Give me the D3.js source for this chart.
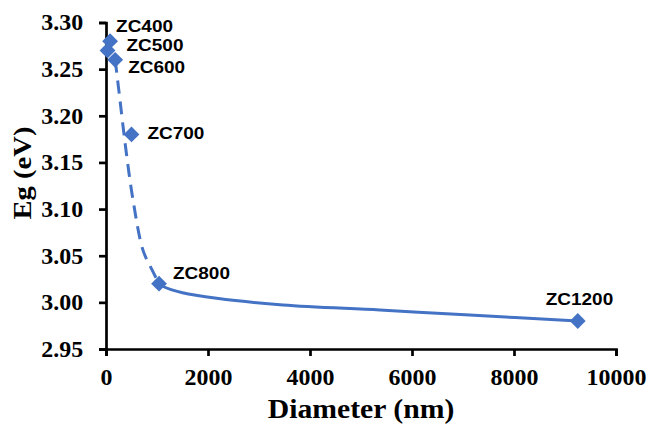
<!DOCTYPE html>
<html>
<head>
<meta charset="utf-8">
<script src="https://cdn.jsdelivr.net/npm/d3@7"></script>
<style>
  body { margin: 0; background: #fff; }
  svg { display: block; }
</style>
</head>
<body>
<script>
// measured points
var samples = ["ZC400", "ZC500", "ZC600", "ZC700", "ZC800", "ZC1200"];
var diameters = [80, 30, 180, 500, 1040, 9250];
var gaps = [3.28, 3.27, 3.26, 3.18, 3.02, 2.98];

// guide curve (dashed part, then solid part)
var dashDiam = [180, 274, 392, 529, 725, 901, 1040];
var dashGap = [3.26, 3.217, 3.163, 3.110, 3.056, 3.035, 3.02];
var solidDiam = [1040, 1120, 1500, 2170, 3470, 5370, 7130, 9250];
var solidGap = [3.02, 3.017, 3.0103, 3.0043, 2.9972, 2.9918, 2.9864, 2.98];

var xTicks = [0, 2000, 4000, 6000, 8000, 10000];
var yTicks = [2.95, 3.00, 3.05, 3.10, 3.15, 3.20, 3.25, 3.30];

// label offsets from marker centre (px)
var labelDx = [6, 19, 13, 16, 14, -32];
var labelDy = [-9, 1, 13, 5, -5, -16];

var width = 652,
    height = 426;
var blue = "#4472c4";
var stretch = 1.15; // the source labels are a bit wide

var svg = d3.select("body").append("svg")
    .attr("width", width)
    .attr("height", height);

svg.append("rect").attr("width", width).attr("height", height).attr("fill", "#fff");

var x = d3.scaleLinear().domain([0, 10000]).range([106, 616]);
var y = d3.scaleLinear().domain([2.95, 3.30]).range([349, 22.5]);

// axes
var xAxis = svg.append("g")
    .attr("transform", "translate(0," + y(2.95) + ")")
    .call(d3.axisBottom(x).tickValues(xTicks).tickSize(7).tickPadding(13).tickFormat(d3.format("d")));

var yAxis = svg.append("g")
    .attr("transform", "translate(" + x(0) + ",0)")
    .call(d3.axisLeft(y).tickValues(yTicks).tickSize(7).tickPadding(15).tickFormat(d3.format(".2f")));

[xAxis, yAxis].forEach(function(ax){
    ax.select(".domain").attr("stroke", "#000").attr("stroke-width", 2.7);
    ax.selectAll(".tick line").attr("stroke", "#000").attr("stroke-width", 2.7);
    ax.selectAll(".tick text")
        .attr("fill", "#000")
        .style("font-family", "'Liberation Serif', 'Times New Roman', serif")
        .style("font-weight", "bold")
        .style("font-size", "23px")
        .attr("transform", "scale(1.04,1)");
});

// guide curves
var line = d3.line()
    .x(function(d){ return x(d[0]); })
    .y(function(d){ return y(d[1]); })
    .curve(d3.curveCatmullRom);

svg.append("path")
    .datum(d3.zip(dashDiam, dashGap))
    .attr("d", line)
    .attr("fill", "none")
    .attr("stroke", blue)
    .attr("stroke-width", 3)
    .attr("stroke-dasharray", "13,8");

svg.append("path")
    .datum(d3.zip(solidDiam, solidGap))
    .attr("d", line)
    .attr("fill", "none")
    .attr("stroke", blue)
    .attr("stroke-width", 3);

// markers
var diamond = d3.symbol().type(d3.symbolSquare).size(125);
svg.selectAll(".pt")
    .data(d3.zip(diameters, gaps))
    .enter()
    .append("path")
    .attr("class", "pt")
    .attr("d", diamond)
    .attr("fill", blue)
    .attr("transform", function(d){
        return "translate(" + x(d[0]) + "," + y(d[1]) + ") rotate(45)";
    });

// point labels
svg.selectAll(".lbl")
    .data(samples)
    .enter()
    .append("text")
    .attr("class", "lbl")
    .attr("transform", function(d, i){
        return "translate(" + (x(diameters[i]) + labelDx[i]) + "," + (y(gaps[i]) + labelDy[i]) + ") scale(" + stretch + ",1)";
    })
    .style("font-family", "'Liberation Sans', Arial, sans-serif")
    .style("font-weight", "bold")
    .style("font-size", "16.5px")
    .attr("fill", "#000")
    .text(function(d){ return d; });

// axis titles
svg.append("text")
    .attr("transform", "translate(" + ((x(0) + x(10000)) / 2) + ",418) scale(1.1,1)")
    .attr("text-anchor", "middle")
    .style("font-family", "'Liberation Serif', 'Times New Roman', serif")
    .style("font-weight", "bold")
    .style("font-size", "27px")
    .text("Diameter (nm)");

svg.append("text")
    .attr("transform", "translate(31,173) rotate(-90) scale(1.1,1)")
    .attr("text-anchor", "middle")
    .style("font-family", "'Liberation Serif', 'Times New Roman', serif")
    .style("font-weight", "bold")
    .style("font-size", "26px")
    .text("Eg (eV)");
</script>
</body>
</html>
